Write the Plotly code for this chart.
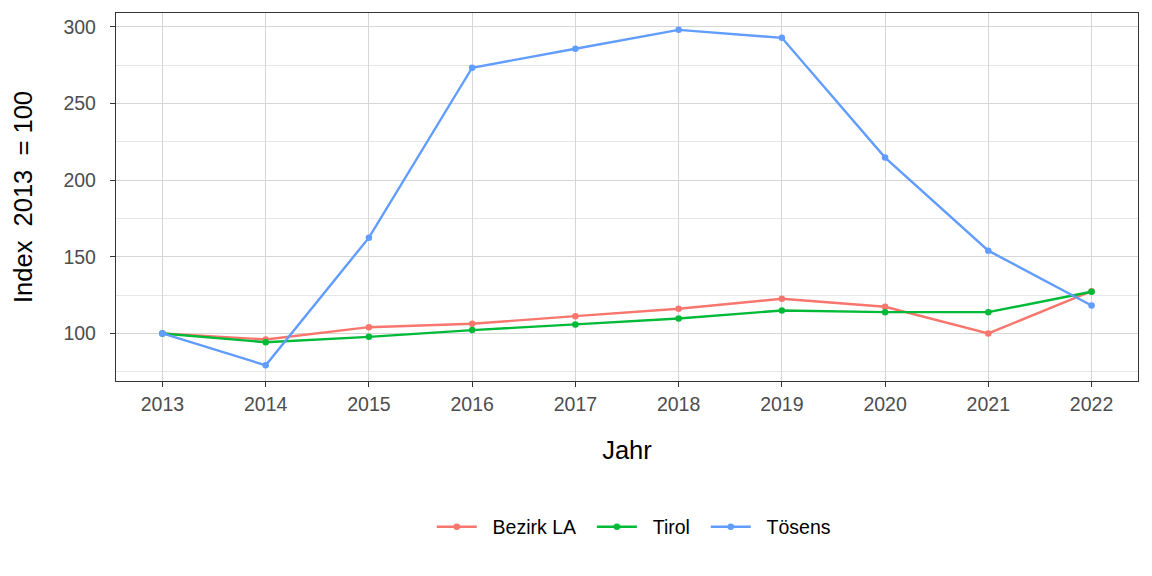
import plotly.graph_objects as go

years = [2013, 2014, 2015, 2016, 2017, 2018, 2019, 2020, 2021, 2022]
bezirk_la = [100, 96.1, 104.1, 106.3, 111.3, 116.1, 122.6, 117.4, 100, 127.6]
tirol = [100, 94.3, 97.8, 102.2, 105.9, 109.8, 115.0, 113.9, 113.9, 127.2]
toesens = [100, 79.2, 162.5, 273.3, 285.7, 298.0, 292.8, 214.7, 154.0, 118.2]

series_names = ["Bezirk LA", "Tirol", "Tösens"]
series_colors = ["#F8766D", "#00BA38", "#619CFF"]
series_values = [bezirk_la, tirol, toesens]

fig = go.Figure()
for name, col, vals in zip(series_names, series_colors, series_values):
    fig.add_trace(go.Scatter(
        x=years, y=vals, name="\u00a0\u00a0" + name + "\u00a0\u00a0", mode="lines+markers",
        line=dict(color=col, width=2.4),
        marker=dict(color=col, size=6.5, symbol="circle"),
    ))

font_family = "Liberation Sans, Arial, sans-serif"
fig.update_layout(
    width=1152, height=576,
    paper_bgcolor="white", plot_bgcolor="white",
    font=dict(family=font_family, color="black"),
    margin=dict(l=116, r=14, t=13, b=195, autoexpand=False),
    showlegend=True,
    hovermode=False,
    legend=dict(orientation="h", x=0.512, xanchor="center", y=-0.397, yanchor="middle",
                font=dict(size=19.5, family=font_family, color="black"),
                itemwidth=40, tracegroupgap=0),
)
fig.update_xaxes(
    range=[2012.55, 2022.45], tickmode="array", tickvals=years,
    ticktext=[str(y) for y in years],
    showgrid=True, gridcolor="#D6D6D6", gridwidth=1,
    showline=True, linecolor="#333333", linewidth=1.3, mirror=True,
    ticks="outside", ticklen=5, tickcolor="#333333",
    tickfont=dict(size=19.5, color="#4D4D4D"),
    title=dict(text="Jahr", font=dict(size=25.5, color="black"), standoff=27),
    zeroline=False, automargin=False,
)
fig.update_yaxes(
    range=[69, 309], tickvals=[100, 150, 200, 250, 300],
    showgrid=True, gridcolor="#D6D6D6", gridwidth=1,
    minor=dict(tickvals=[75, 125, 175, 225, 275], showgrid=True, gridcolor="#E6E6E6", gridwidth=0.6),
    showline=True, linecolor="#333333", linewidth=1.3, mirror=True,
    ticks="outside", ticklen=5, tickcolor="#333333", ticklabelstandoff=10,
    tickfont=dict(size=19.5, color="#4D4D4D"),
    title=dict(text="Index\u00a0\u00a02013\u00a0\u00a0=\u00a0100", font=dict(size=25.5, color="black"), standoff=23),
    zeroline=False, automargin=False,
)
fig.write_html("out.html", config={"displayModeBar": False},
               post_script="document.body.style.margin='0';")
